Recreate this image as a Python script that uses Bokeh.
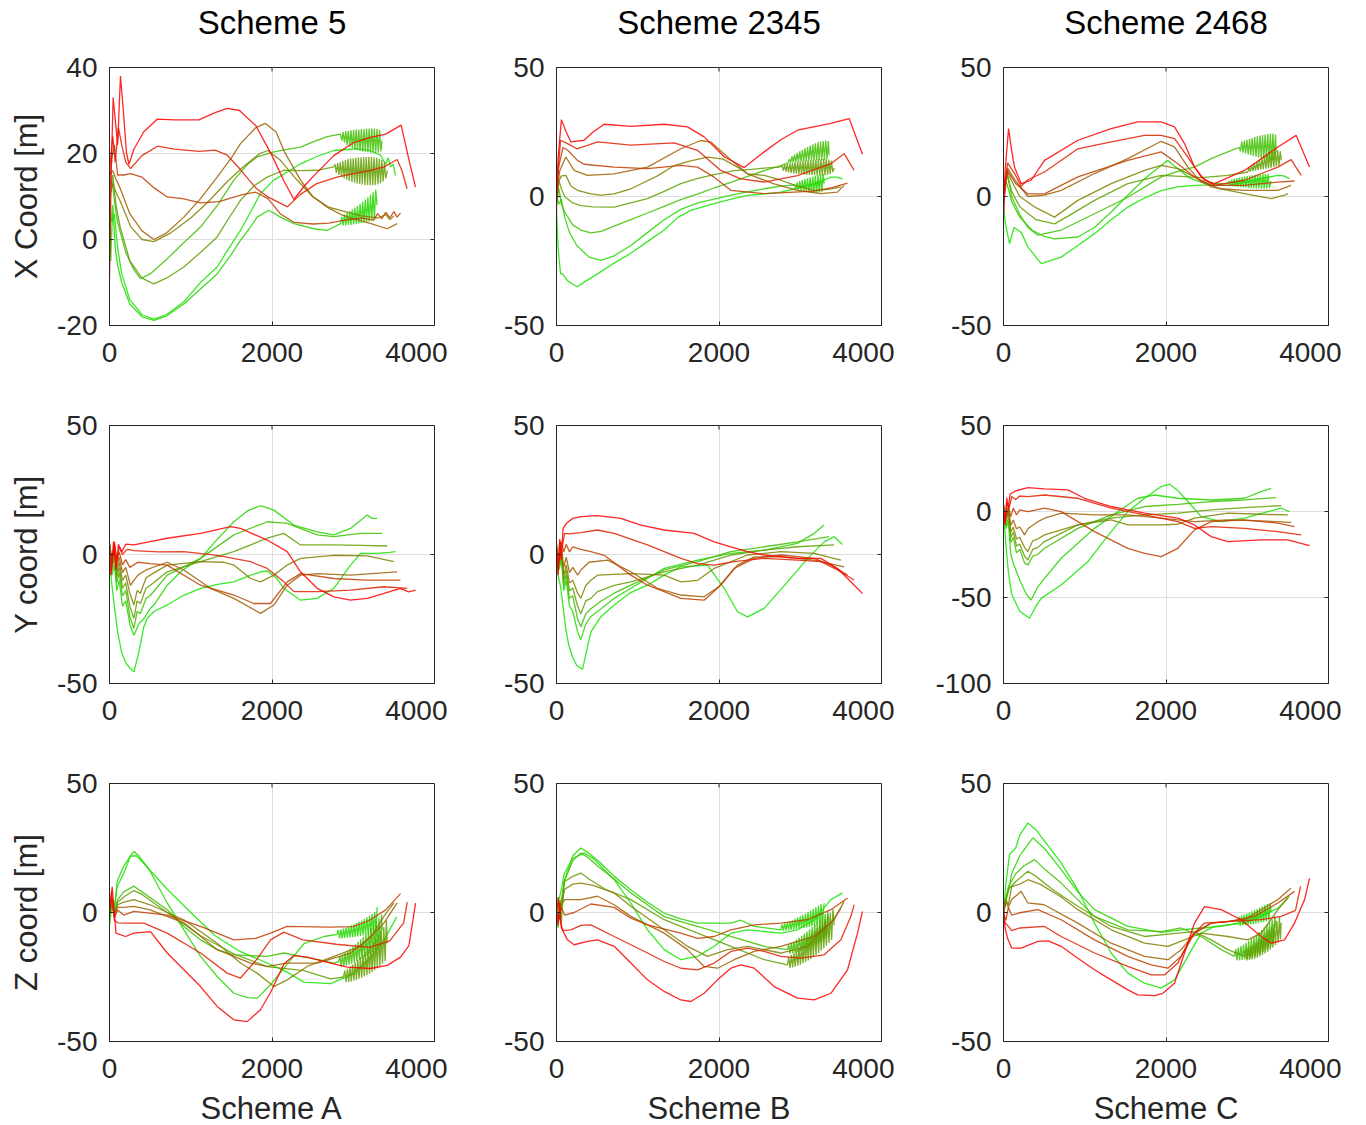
from bokeh.plotting import figure
from bokeh.layouts import column, row
from bokeh.models import Range1d, FixedTicker
from bokeh.core.properties import value
from bokeh.embed import file_html
from bokeh.resources import INLINE

# Panel headings and axis texts
COL_TITLES = ["Scheme 5", "Scheme 2345", "Scheme 2468"]
ROW_LABELS = ["X Coord [m]", "Y coord [m]", "Z coord [m]"]
X_LABELS = ["Scheme A", "Scheme B", "Scheme C"]
X_TICKS = [0, 2000, 4000]
Y_LIMITS = [[(-20, 40), (-50, 50), (-50, 50)],
            [(-50, 50), (-50, 50), (-100, 50)],
            [(-50, 50), (-50, 50), (-50, 50)]]
Y_TICKS = [[[-20, 0, 20, 40], [-50, 0, 50], [-50, 0, 50]],
           [[-50, 0, 50], [-50, 0, 50], [-100, -50, 0, 50]],
           [[-50, 0, 50], [-50, 0, 50], [-50, 0, 50]]]

# Nine trajectories per panel, ordered from the first (green) to the last (red).
# Each trajectory is a list of (sample, metres) pairs.

x_coord_a = [
    [(0, 12), (25, 4), (60, 6), (100, -2), (150, -8), (250, -14), (400, -17.5), (545, -18.5), (700, -17.5),
     (915, -14.5), (1120, -10), (1325, -6.4), (1470, -2), (1612, 2.1), (1740, 6.5), (1858, 10.7), (2022, 13.8),
     (2200, 15.8), (2351, 17.6), (2550, 19.3), (2761, 20.7), (3048, 21.1), (3200, 20.7), (3335, 19.6),
     (3400, 17.5), (3430, 19), (3460, 16.9), (3490, 17.5), (3520, 14.9)],
    [(0, 15), (15, -5), (40, 8), (70, -2), (100, -6), (150, -10), (250, -15), (400, -18), (545, -18.8),
     (700, -17.8), (915, -15), (1120, -11.5), (1325, -8), (1480, -4), (1612, -0.2), (1720, 2.5), (1817, 5.2),
     (1960, 6.8), (2105, 5.2), (2269, 3.7), (2515, 2.5), (2679, 2.1), (2843, 3.7),
     (2860, 5.2), (2876, 3.3), (2892, 5.8), (2908, 3.3), (2924, 6.2), (2940, 3.4), (2956, 6.6), (2972, 3.4),
     (2988, 7.0), (3004, 3.5), (3020, 7.4), (3036, 3.6), (3052, 7.8), (3068, 3.7), (3084, 8.3), (3100, 3.8),
     (3116, 8.8), (3132, 3.9), (3148, 9.3), (3164, 4.0), (3180, 9.8), (3196, 4.2), (3212, 10.4), (3228, 4.4),
     (3244, 11.0), (3260, 4.6), (3276, 11.6), (3294, 8.0)],
    [(0, 8), (30, 14), (60, 9), (100, 4), (200, -3), (300, -7), (380, -9.1), (500, -8), (710, -4.5), (900, -1),
     (1120, 2.9), (1330, 8), (1530, 13.8), (1700, 17.5), (1817, 19.2), (2022, 20.4), (2200, 21), (2351, 21.5),
     (2520, 22.8), (2679, 23.9), (2843, 24.5),
     (2860, 23), (2876, 25), (2892, 22.5), (2908, 25.2), (2924, 22), (2940, 25.3), (2956, 21.6), (2972, 25.4),
     (2988, 21.3), (3004, 25.5), (3020, 21), (3036, 25.6), (3052, 20.8), (3068, 25.6), (3084, 20.6),
     (3100, 25.7), (3116, 20.5), (3132, 25.7), (3148, 20.4), (3164, 25.8), (3180, 20.3), (3196, 25.8),
     (3212, 20.2), (3228, 25.8), (3244, 20.2), (3260, 25.8), (3276, 20.1), (3292, 25.7), (3308, 20.2),
     (3324, 25.5), (3340, 20.5), (3355, 23)],
    [(0, 12), (40, 15), (80, 8), (130, 3), (250, -5), (400, -9), (545, -10.3), (700, -9), (915, -6.4),
     (1120, -3), (1325, 0.6), (1470, 5), (1612, 9.1), (1780, 12.5), (1940, 14.5), (2145, 16.1), (2350, 16),
     (2556, 16.1), (2761, 16.9),
     (2776, 17.5), (2792, 15.5), (2808, 17.8), (2824, 15), (2840, 18), (2856, 14.6), (2872, 18.3), (2888, 14.2),
     (2904, 18.5), (2920, 13.9), (2936, 18.7), (2952, 13.6), (2968, 18.8), (2984, 13.4), (3000, 18.9),
     (3016, 13.2), (3032, 19), (3048, 13), (3064, 19.1), (3080, 12.9), (3096, 19.1), (3112, 12.8),
     (3128, 19.2), (3144, 12.7), (3160, 19.2), (3176, 12.7), (3192, 19.2), (3208, 12.6), (3224, 19.2),
     (3240, 12.6), (3256, 19.1), (3272, 12.7), (3288, 19), (3304, 12.8), (3320, 18.8), (3336, 13.1),
     (3352, 18.5), (3368, 13.5), (3384, 18), (3400, 14.2), (3420, 16)],
    [(0, 10), (40, 13), (80, 11), (130, 9), (260, 3), (400, 0), (546, -0.5), (750, 1.5), (1000, 5),
     (1200, 8.5), (1450, 13.5), (1650, 17), (1850, 20), (1950, 20.7), (2100, 18.5), (2300, 14), (2500, 10),
     (2700, 7.5), (2900, 6.5), (3100, 5.5), (3300, 5), (3400, 5.8), (3450, 4.6), (3500, 5.5)],
    [(0, 15), (40, 16), (80, 14), (130, 12), (250, 6), (400, 2), (545, 0), (700, 1.5), (915, 5.2), (1120, 9.5),
     (1325, 14.5), (1500, 19), (1612, 22.3), (1800, 26), (1920, 27), (2050, 25), (2150, 20.5), (2351, 13.8),
     (2500, 10), (2679, 7.5), (2850, 5.8), (3007, 4.8), (3200, 3.8), (3417, 2.5), (3540, 3.7)],
    [(0, 12), (30, 19), (60, 22), (100, 15), (180, 15), (260, 15.3), (400, 14.5), (550, 12), (710, 9.9),
     (900, 9.5), (1120, 8.5), (1350, 8.8), (1500, 9.7), (1650, 10.5), (1800, 11), (1950, 9.5), (2100, 6),
     (2270, 4), (2500, 3.6), (2700, 3.8), (2900, 4.5), (3100, 5), (3250, 4.5), (3300, 6), (3350, 4.8),
     (3400, 6.3), (3450, 5), (3500, 6.5), (3540, 5.2), (3582, 6.2)],
    [(0, 16), (40, 24), (70, 18), (110, 26), (150, 22), (200, 18), (260, 16.5), (400, 19.5), (590, 21.7),
     (800, 21), (1100, 20.5), (1300, 20.8), (1450, 19.6), (1600, 16.5), (1800, 12), (1950, 9.9), (2190, 7.6),
     (2350, 10.5), (2550, 13), (2800, 14.5), (3000, 15.3), (3200, 16), (3380, 16.9), (3540, 18.6),
     (3600, 16), (3663, 11.8)],
    [(0, -9), (20, 15), (45, 33), (70, 28), (100, 22), (135, 38), (170, 30), (210, 20), (240, 17.5),
     (300, 21), (420, 25), (590, 28), (800, 27.8), (1100, 27.8), (1300, 29.5), (1450, 30.5), (1600, 30),
     (1800, 26.5), (2000, 19.5), (2150, 13.5), (2270, 9.3), (2400, 12.5), (2550, 15.5), (2760, 19.5),
     (3000, 22.5), (3200, 23.7), (3400, 24.5), (3590, 26.6), (3680, 19), (3766, 12.2)],
]

x_coord_b = [
    [(0, -5), (20, -20), (50, -30), (74, -30), (135, -32.6), (200, -34), (258, -35), (350, -33), (505, -30),
     (700, -26), (915, -22), (1120, -17.5), (1325, -13), (1500, -8), (1653, -5.4), (1800, -4), (1941, -2.8),
     (2150, -1), (2351, 0.4), (2561, 1), (2761, 1.7), (2966, 3.2), (3172, 4.9), (3377, 7.5), (3450, 7.5),
     (3520, 6.8)],
    [(0, 0), (30, -3), (60, -1), (100, -8), (160, -14), (250, -19), (400, -23.5), (546, -24.8), (710, -23),
     (915, -19), (1120, -14), (1325, -9), (1530, -5), (1740, -2.5), (1940, -1), (2150, 0.5), (2351, 1.8),
     (2556, 3), (2761, 4), (2930, 4.5),
     (2946, 3), (2962, 5.5), (2978, 2.5), (2994, 6), (3010, 2.2), (3026, 6.4), (3042, 2), (3058, 6.8),
     (3074, 1.8), (3090, 7.1), (3106, 1.6), (3122, 7.4), (3138, 1.5), (3154, 7.7), (3170, 1.4), (3186, 8),
     (3202, 1.4), (3218, 8.3), (3234, 1.5), (3250, 8.6), (3266, 1.8), (3282, 8.8), (3294, 5)],
    [(0, -3), (30, 3), (60, -3), (100, -6), (200, -11), (300, -13), (423, -14.1), (550, -13.5), (710, -11.5),
     (915, -9), (1120, -6.4), (1325, -3.8), (1530, -1.2), (1740, 1), (1940, 3.3), (2146, 5.5), (2351, 7.8),
     (2556, 10), (2761, 12), (2850, 13),
     (2866, 14.5), (2882, 13.2), (2898, 15.5), (2914, 13.3), (2930, 16.2), (2946, 13.4), (2962, 16.9),
     (2978, 13.5), (2994, 17.5), (3010, 13.6), (3026, 18.1), (3042, 13.7), (3058, 18.7), (3074, 13.8),
     (3090, 19.2), (3106, 13.9), (3122, 19.7), (3138, 14), (3154, 20.2), (3170, 14), (3186, 20.6),
     (3202, 14.1), (3218, 21), (3234, 14.1), (3250, 21.3), (3266, 14.2), (3282, 21.5), (3298, 14.3),
     (3314, 21.7), (3330, 14.5), (3346, 21.5), (3355, 16)],
    [(0, 0), (30, 6), (60, 3), (100, 0), (200, -2.5), (300, -3.5), (450, -4), (710, -4.1), (915, -2.5),
     (1120, -0.8), (1325, 2), (1530, 5), (1740, 7), (1940, 8.5), (2187, 10), (2400, 10.5), (2556, 11),
     (2761, 11.5),
     (2776, 12), (2792, 10), (2808, 12.3), (2824, 9.6), (2840, 12.6), (2856, 9.3), (2872, 12.9), (2888, 9.1),
     (2904, 13.1), (2920, 8.9), (2936, 13.3), (2952, 8.8), (2968, 13.5), (2984, 8.7), (3000, 13.6),
     (3016, 8.6), (3032, 13.8), (3048, 8.5), (3064, 13.9), (3080, 8.4), (3096, 14), (3112, 8.4), (3128, 14.1),
     (3144, 8.3), (3160, 14.2), (3176, 8.3), (3192, 14.3), (3208, 8.2), (3224, 14.4), (3240, 8.2),
     (3256, 14.4), (3272, 8.2), (3288, 14.5), (3304, 8.3), (3320, 14.5), (3336, 8.4), (3352, 14.3),
     (3368, 8.7), (3384, 13.8), (3400, 9.5), (3420, 11)],
    [(0, -2), (30, 6), (60, 8), (115, 8.2), (180, 4), (258, 2.4), (423, 1), (546, 0.5), (710, 1), (915, 3),
     (1243, 8), (1450, 12), (1612, 13.5), (1858, 15.3), (2050, 14.5), (2250, 11), (2351, 8.8), (2556, 8.2),
     (2761, 6.3), (2966, 4), (3172, 2.4), (3350, 2.8), (3500, 3.7)],
    [(0, 0), (40, 10), (115, 15.3), (217, 10.1), (380, 8.2), (710, 8.8), (1120, 11.4), (1530, 18.5),
     (1776, 21.7), (1900, 21.1), (2105, 15.3), (2351, 8.8), (2679, 4.9), (2966, 2.4), (3253, 1.1),
     (3458, 1.7), (3540, 4.3)],
    [(0, 3), (30, 12), (80, 19), (135, 18), (258, 14), (340, 12.5), (710, 11.4), (1120, 10.8), (1530, 12.1),
     (1735, 11.4), (1940, 7.5), (2145, 2.4), (2556, 1.1), (3172, 2.1), (3400, 3.5), (3582, 5.2)],
    [(0, -5), (20, 10), (50, 21.8), (135, 20.5), (250, 18.5), (400, 20), (505, 21.2), (915, 19.9),
     (1448, 20.8), (1735, 17.9), (2022, 10.1), (2269, 6.8), (2556, 5.6), (2966, 8.1), (3376, 12.7),
     (3540, 16.6), (3663, 10.1)],
    [(0, 1), (20, 15), (60, 29.8), (120, 25), (176, 21.2), (340, 21.8), (450, 25), (587, 28), (915, 27.2),
     (1325, 28), (1612, 27), (1817, 23.1), (2064, 15.4), (2310, 11.2), (2556, 17.3), (2760, 22), (2966, 25.7),
     (3376, 28.3), (3602, 30.2), (3766, 16.4)],
]

x_coord_c = [
    [(0, -3), (20, -10), (74, -18.3), (130, -12), (220, -14), (300, -19.6), (464, -26), (710, -23.5),
     (915, -19), (1120, -14.4), (1325, -9), (1530, -4.1), (1740, -0.5), (1941, 2.3), (2146, 3.7), (2351, 4.3),
     (2556, 4.5), (2761, 4.3), (2966, 5.5), (3172, 6.9), (3377, 8.2), (3450, 8), (3520, 6.9)],
    [(0, 0), (30, 6), (60, 3), (100, -2), (200, -8), (350, -13), (500, -15.5), (628, -16.4), (915, -15.7),
     (1120, -12), (1325, -6), (1530, 0.5), (1740, 7), (1941, 12), (2023, 14), (2146, 10.8), (2300, 7),
     (2433, 5.6), (2600, 5), (2761, 5),
     (2776, 6), (2792, 4.2), (2808, 6.5), (2824, 4), (2840, 6.8), (2856, 3.8), (2872, 7.1), (2888, 3.7),
     (2904, 7.3), (2920, 3.6), (2936, 7.5), (2952, 3.5), (2968, 7.7), (2984, 3.4), (3000, 7.9), (3016, 3.3),
     (3032, 8.1), (3048, 3.2), (3064, 8.2), (3080, 3.2), (3096, 8.4), (3112, 3.1), (3128, 8.5), (3144, 3.1),
     (3160, 8.6), (3176, 3), (3192, 8.7), (3208, 3), (3224, 8.8), (3240, 3.1), (3256, 8.8), (3272, 3.3),
     (3294, 6)],
    [(0, 3), (40, 10), (100, 0), (200, -7), (300, -12), (423, -15), (710, -13), (1120, -6.7), (1530, -0.3),
     (1941, 7.6), (2187, 10.1), (2351, 11.4), (2556, 14.7), (2761, 17.3), (2900, 19),
     (2916, 17.5), (2932, 21.3), (2948, 17), (2964, 21.7), (2980, 16.7), (2996, 22), (3012, 16.3), (3028, 22.4),
     (3044, 16), (3060, 22.7), (3076, 15.7), (3092, 23), (3108, 15.4), (3124, 23.3), (3140, 15.1),
     (3156, 23.6), (3172, 14.9), (3188, 23.8), (3204, 14.7), (3220, 24), (3236, 14.5), (3252, 24.2),
     (3268, 14.3), (3284, 24.3), (3300, 14.2), (3316, 24.4), (3332, 14.3), (3348, 24), (3355, 17)],
    [(0, 0), (40, 9), (100, 2), (200, -4), (400, -9), (628, -10.6), (800, -7.5), (1120, -1.5), (1530, 5),
     (1941, 8.2), (2187, 7.8), (2433, 7.3), (2761, 8.2), (3007, 9.5),
     (3022, 11.3), (3038, 9.6), (3054, 12), (3070, 9.8), (3086, 12.8), (3102, 10), (3118, 13.5), (3134, 10.2),
     (3150, 14.2), (3166, 10.4), (3182, 14.9), (3198, 10.6), (3214, 15.6), (3230, 10.8), (3246, 16.2),
     (3262, 11), (3278, 16.8), (3294, 11.2), (3310, 17.3), (3326, 11.4), (3342, 17.7), (3358, 11.6),
     (3374, 17.9), (3390, 11.8), (3406, 17.5), (3420, 14)],
    [(0, 2), (40, 10), (100, 6), (200, 0), (380, -4), (628, -8), (915, -1.5), (1325, 5), (1736, 10.1),
     (1941, 12.1), (2146, 10.8), (2351, 7.6), (2556, 3.7), (2966, 1.1), (3294, -0.8), (3460, 0.5),
     (3500, 1.1)],
    [(0, 0), (50, 11), (150, 6), (300, 0), (505, 0.5), (710, 2.4), (1120, 8.9), (1530, 14.7), (1941, 21.4),
     (2105, 19.2), (2269, 11.4), (2433, 5.6), (2679, 3), (2966, 2.4), (3377, 2.4), (3540, 4.3)],
    [(0, -3), (50, 10), (150, 5), (300, 1), (505, 1), (915, 7.6), (1530, 14), (1941, 17.3), (2146, 12.7),
     (2351, 7.6), (2556, 4.3), (2966, 4.3), (3377, 5.6), (3582, 6)],
    [(0, -5), (20, 5), (50, 13), (135, 9), (217, 4), (300, 6.5), (505, 9.5), (915, 18.5), (1325, 21.2),
     (1736, 23.7), (1941, 23.7), (2105, 22.4), (2269, 15.3), (2433, 7.6), (2597, 4.3), (2966, 6.3),
     (3377, 11.4), (3540, 14.3), (3663, 8.2)],
    [(0, -8), (20, 10), (62, 26.3), (100, 18), (135, 11.4), (217, 5), (340, 6.3), (505, 14), (915, 21.8),
     (1325, 26.3), (1653, 28.9), (1941, 28.9), (2105, 27), (2228, 20.5), (2351, 11.4), (2474, 6.3),
     (2597, 5), (2966, 10.1), (3377, 19.2), (3602, 23.7), (3766, 11.4)],
]

y_coord_a = [
    [(0, -2), (30, -12), (60, -20), (100, -30), (150, -38), (200, -42), (250, -44), (300, -45.5), (360, -38),
     (423, -28), (464, -24.8), (550, -22), (710, -19.6), (900, -16), (1120, -13.1), (1350, -11.5),
     (1530, -10.6), (1700, -8.5), (1858, -6.7), (1941, -6.4), (2050, -9), (2146, -13.1), (2351, -17.7),
     (2556, -17), (2761, -13.1), (2966, -4.1), (3090, 0.4), (3294, 0.4), (3450, 0.8), (3520, 1.1)],
    [(0, 2), (30, -8), (60, -4), (90, -14), (120, -10), (160, -20), (200, -18), (250, -27), (300, -31.3),
     (360, -27), (423, -24.8), (500, -21), (560, -19), (710, -11.9), (900, -6), (1120, -1.6), (1300, 5),
     (1530, 12.7), (1700, 17), (1858, 18.9), (2023, 17.2), (2269, 11.4), (2556, 8.8), (2761, 7.6),
     (2966, 10.1), (3100, 13.5), (3172, 15.3), (3230, 14), (3294, 14)],
    [(0, 3), (30, -6), (60, -1), (90, -11), (120, -7), (160, -16), (200, -14), (250, -24), (300, -28.7),
     (340, -22), (380, -23), (450, -17), (500, -16), (710, -8), (1120, -1.5), (1530, 7.6), (1941, 12.7),
     (2187, 12.1), (2556, 7.6), (2761, 6.9), (3090, 8.2), (3356, 8.2)],
    [(0, 4), (30, -5), (60, 1), (90, -9), (120, -5), (160, -13), (200, -11), (250, -20), (300, -24.8),
     (340, -18), (380, -19), (450, -13), (500, -12), (710, -6.7), (1120, -2.8), (1530, 1.1), (1941, 6.3),
     (2146, 8.2), (2351, 3.7), (2761, 3.7), (3100, 3.5), (3418, 3.3)],
    [(0, 5), (30, -3), (60, 2), (90, -7), (120, -3), (160, -10), (200, -8), (250, -15), (300, -19.6),
     (340, -14), (380, -15), (450, -9), (500, -8), (710, -4.1), (1120, -2.8), (1400, -3), (1530, -4.1),
     (1736, -9.3), (1858, -10.6), (2023, -8), (2187, -4.1), (2351, -1.5), (2761, -0.3), (3172, -0.5),
     (3500, -2.8)],
    [(0, 4), (30, -2), (60, 3), (90, -5), (120, -1), (160, -7), (200, -5), (258, -12), (300, -10), (350, -8),
     (450, -6), (710, -3), (915, -6), (1243, -13.1), (1530, -17), (1858, -22.8), (2023, -19.6),
     (2187, -11.9), (2351, -8), (2556, -7.4), (2966, -8), (3540, -6.7)],
    [(0, 3), (30, -2), (60, 4), (90, -3), (120, 1), (160, -4), (200, -2), (250, -5), (350, -3), (500, -3.5),
     (710, -4.1), (1120, -11.9), (1530, -15.7), (1776, -19), (1981, -19), (2187, -10.6), (2351, -7.4),
     (2761, -9.3), (3172, -9.9), (3580, -9.9)],
    [(0, 2), (30, -4), (60, 5), (90, -2), (120, 3), (160, 0), (217, 2), (300, 1.5), (600, 1), (915, 1.1),
     (1325, -0.3), (1736, -2.8), (1941, -5.4), (2146, -10.6), (2269, -14.4), (2556, -14.4), (2966, -13.8),
     (3377, -12.5), (3663, -13.1)],
    [(0, 0), (20, -8), (50, 5), (80, -6), (110, 4), (150, 1), (200, 4), (300, 3.7), (500, 5), (710, 6.3),
     (1120, 8.2), (1489, 10.8), (1612, 10.1), (1941, 5.6), (2187, 1.1), (2351, -6.7), (2556, -13.1),
     (2761, -16.4), (2966, -17.7), (3172, -17), (3377, -15.1), (3582, -13.1), (3680, -14.5), (3766, -13.8)],
]

y_coord_b = [
    [(0, 0), (20, -8), (50, -12.5), (80, -20), (110, -28), (150, -35), (200, -40), (250, -43), (320, -44.5),
     (380, -36), (423, -30), (550, -24), (710, -19.6), (900, -15), (1120, -11.9), (1325, -8), (1530, -4.8),
     (1858, -4.1), (2064, -13.1), (2228, -22.2), (2351, -24.2), (2556, -20.9), (2843, -10.6), (3090, -1.5),
     (3294, 4.9), (3418, 6.9), (3520, 3.9)],
    [(0, 2), (30, -6), (60, -2), (90, -14), (120, -10), (160, -20), (200, -22), (260, -30), (300, -33),
     (360, -27), (423, -24), (550, -21), (710, -17), (915, -13.1), (1325, -5.4), (1736, -2.2), (2146, 0.4),
     (2556, 1.7), (2966, 4.3), (3172, 8.2), (3294, 11.4)],
    [(0, 3), (30, -5), (60, 0), (90, -12), (120, -8), (160, -17), (200, -16), (260, -25), (300, -28),
     (360, -23), (423, -21), (550, -18), (710, -15), (915, -11.9), (1325, -6), (1736, -2.8), (2146, 1.1),
     (2556, 3), (2966, 4.9), (3356, 6.9)],
    [(0, 4), (30, -4), (60, 1), (90, -10), (120, -6), (160, -14), (200, -13), (260, -20), (300, -23),
     (360, -18), (423, -17), (505, -14.4), (710, -12), (915, -10.6), (1325, -6.7), (1736, -4.1),
     (2146, -0.2), (2556, 1.7), (2966, 3), (3418, 3.7)],
    [(0, 4), (30, -3), (60, 2), (90, -8), (120, -4), (160, -11), (200, -10), (260, -15), (300, -17),
     (360, -12), (423, -10), (505, -8), (915, -7.4), (1325, -8), (1530, -10.6), (1736, -10), (1941, -5.4),
     (2351, -0.2), (2761, 1.1), (3172, 0.4), (3500, -2.2)],
    [(0, 3), (30, -2), (60, 3), (90, -5), (120, -1), (160, -7), (200, -5), (260, -8), (300, -6), (400, -3),
     (628, -2.2), (915, -6.7), (1243, -13.1), (1530, -15.7), (1817, -16.4), (2023, -11.9), (2228, -4.1),
     (2433, -0.9), (2761, -0.9), (3172, -2.2), (3540, -4.8)],
    [(0, 2), (30, -3), (60, 5), (90, 1), (120, 4), (160, 1), (200, 3), (300, 2), (423, 1.1), (587, -0.3),
     (915, -8), (1120, -11.9), (1325, -14.4), (1530, -17), (1817, -17.7), (1981, -13.1), (2187, -5.4),
     (2433, -1.5), (2761, -0.2), (3172, -1.5), (3377, -4.1), (3582, -8)],
    [(0, 1), (20, -5), (40, 5), (70, 3), (100, 8.2), (150, 8), (300, 8.5), (505, 9.5), (710, 8.2),
     (1120, 3.7), (1325, 1.1), (1530, -1.5), (1736, -3.5), (1941, -4.1), (2187, -2.8), (2556, -1.5),
     (2966, -2.2), (3254, -2.8), (3459, -6), (3663, -9.9)],
    [(0, 0), (20, -8), (40, 6), (60, -2), (80, 10), (120, 12), (200, 14), (300, 14.7), (505, 15.1),
     (792, 14), (1038, 11.4), (1325, 9.5), (1695, 8.2), (1941, 4.9), (2146, 3), (2351, 1.1), (2556, -0.2),
     (2966, -1.5), (3254, -1.5), (3459, -5.4), (3582, -9.3), (3766, -15.1)],
]

y_coord_c = [
    [(0, 0), (30, -20), (60, -35), (100, -48), (200, -58), (320, -62.1), (400, -55), (464, -50.5),
     (710, -42.7), (1038, -29.2), (1325, -11.7), (1530, -0.1), (1736, 7.7), (1941, 14.5), (2044, 15.9),
     (2150, 12), (2269, 5.8), (2433, -3), (2679, -5.9), (2966, -3.9), (3254, -0.1), (3418, 1.9),
     (3520, -0.1)],
    [(0, 2), (30, -10), (60, -6), (90, -25), (120, -30), (200, -40), (280, -48), (340, -51.5), (420, -44),
     (505, -38.9), (710, -27.2), (1120, -9.8), (1407, -0.1), (1653, 7.7), (1858, 9.6), (2146, 7.7),
     (2556, 6.7), (2966, 7.7), (3172, 11.6), (3294, 13.5)],
    [(0, 3), (30, -8), (60, -4), (90, -18), (120, -15), (160, -24), (200, -22), (260, -30), (300, -31),
     (360, -26), (420, -25), (505, -21.4), (915, -9.8), (1325, -2), (1736, 2.9), (2146, 4.2), (2556, 5.8),
     (2966, 6.7), (3356, 8.1)],
    [(0, 4), (30, -6), (60, -1), (90, -15), (120, -12), (160, -20), (200, -19), (260, -26), (300, -28.2),
     (360, -22), (420, -21), (505, -17.5), (915, -7.8), (1325, -3.9), (1736, -2), (2146, -1), (2556, 0.9),
     (2966, 2.3), (3418, 3.4)],
    [(0, 4), (30, -4), (60, 1), (90, -12), (120, -9), (160, -16), (200, -15), (260, -21), (300, -23.3),
     (360, -17), (420, -16), (505, -13.6), (915, -7.8), (1325, -4.9), (1530, -7.8), (1941, -7.8),
     (2146, -7.4), (2351, -3.9), (2761, -1), (3172, -1.6), (3500, -2)],
    [(0, 3), (30, -3), (60, 2), (90, -8), (120, -5), (160, -10), (200, -9), (258, -13.6), (300, -10),
     (360, -8), (420, -6), (505, -3.9), (710, -1), (1120, -2), (1530, -2), (1941, -3.9), (2351, -5.9),
     (2761, -4.9), (3172, -5.5), (3540, -6.3)],
    [(0, 2), (30, -4), (60, 3), (90, -3), (120, 2), (160, -2), (200, 1), (300, -0.1), (505, 1.9),
     (710, -0.1), (915, -5.9), (1120, -11.7), (1530, -21.4), (1736, -24.3), (1941, -26.2), (2146, -21.4),
     (2351, -10.7), (2556, -5.9), (2966, -4.9), (3377, -6.8), (3580, -8.8)],
    [(0, 1), (20, -6), (40, 5), (70, 2), (100, 8.7), (150, 7), (200, 9), (300, 8.7), (505, 9.6), (915, 7.7),
     (1325, 1.9), (1736, -2), (2146, -5.9), (2351, -9.8), (2556, -8.8), (2966, -9.8), (3377, -11.7),
     (3663, -13.6)],
    [(0, 0), (20, -8), (40, 8), (60, 2), (80, 10), (150, 12), (300, 13.9), (505, 13.1), (792, 12.6),
     (997, 7.7), (1325, 2.9), (1736, -1), (2146, -3.9), (2351, -7.8), (2556, -14.6), (2761, -17.5),
     (3172, -16.5), (3500, -16.5), (3766, -19.8)],
]

z_coord_a = [
    [(0, -3), (30, 5), (60, 2), (94, 10), (176, 15.3), (258, 21.8), (330, 22), (423, 19), (710, 9),
     (1000, 0), (1300, -9), (1600, -15), (1900, -19), (2187, -23.1), (2393, -27), (2721, -27.6),
     (3008, -23.7), (3213, -17.3), (3377, -10.9), (3533, -1.8)],
    [(0, -5), (30, 3), (60, 0), (94, 12), (176, 18), (258, 22), (300, 23.7), (360, 22), (500, 16),
     (710, 3.7), (915, -6.7), (1120, -17), (1325, -24.8), (1530, -31.3), (1700, -33), (1820, -33.2),
     (1982, -28), (2187, -20), (2393, -12.1), (2639, -9.3), (2800, -8.5),
     (2816, -6.8), (2832, -10), (2848, -6.5), (2864, -10), (2880, -6.2), (2896, -9.9), (2912, -5.8),
     (2928, -9.8), (2944, -5.4), (2960, -9.7), (2976, -5), (2992, -9.6), (3008, -4.6), (3024, -9.5),
     (3040, -4.1), (3056, -9.3), (3072, -3.6), (3088, -9.1), (3104, -3.1), (3120, -8.9), (3136, -2.5),
     (3152, -8.6), (3168, -1.9), (3184, -8.3), (3200, -1.3), (3216, -8), (3232, -0.6), (3248, -7.6),
     (3264, 0.2), (3280, -7), (3294, 2)],
    [(0, -2), (30, 4), (60, 0), (100, 5), (176, 8), (300, 10.2), (400, 8), (710, 1.1), (915, -5.4),
     (1120, -10.6), (1325, -14.4), (1530, -16.4), (1941, -17), (2146, -15.7), (2351, -17), (2600, -18.5),
     (2761, -19.6), (2820, -19),
     (2836, -17), (2852, -21), (2868, -16.3), (2884, -20.8), (2900, -15.6), (2916, -20.5), (2932, -14.8),
     (2948, -20.2), (2964, -14), (2980, -19.8), (2996, -13.2), (3012, -19.4), (3028, -12.3), (3044, -19),
     (3060, -11.4), (3076, -18.5), (3092, -10.4), (3108, -18), (3124, -9.4), (3140, -17.4), (3156, -8.3),
     (3172, -16.8), (3188, -7.2), (3204, -16.1), (3220, -6), (3236, -15.4), (3252, -4.8), (3268, -14.6),
     (3284, -3.5), (3300, -13.8), (3316, -2.2), (3332, -12.9), (3348, -0.8), (3356, -7)],
    [(0, 0), (30, 3), (60, -2), (100, 4), (176, 6), (300, 8.5), (400, 7), (710, 0), (1120, -9), (1530, -16),
     (1941, -21), (2393, -22.5), (2721, -25.7), (2880, -25),
     (2896, -22.5), (2912, -27), (2928, -21.8), (2944, -26.9), (2960, -21), (2976, -26.7), (2992, -20.2),
     (3008, -26.4), (3024, -19.3), (3040, -26.1), (3056, -18.4), (3072, -25.7), (3088, -17.4), (3104, -25.3),
     (3120, -16.3), (3136, -24.8), (3152, -15.2), (3168, -24.3), (3184, -14), (3200, -23.7), (3216, -12.8),
     (3232, -23.1), (3248, -11.5), (3264, -22.4), (3280, -10.1), (3296, -21.6), (3312, -8.7), (3328, -20.8),
     (3344, -7.2), (3360, -19.9), (3376, -5.6), (3392, -18.9), (3408, -3), (3418, -12)],
    [(0, 0), (30, 4), (60, -1), (100, 3), (176, 4), (300, 5), (500, 3), (915, -2.8), (1325, -11.9),
     (1612, -19.6), (1817, -23.5), (2023, -28.7), (2187, -26.1), (2433, -20.9), (2761, -17), (3090, -13.1),
     (3250, -8), (3377, -1.5), (3500, 3.7)],
    [(0, 1), (30, 5), (60, -1), (100, 2), (176, 2), (300, 2.4), (500, 1), (915, -4), (1325, -14.4),
     (1736, -19.6), (1941, -20.9), (2187, -19.6), (2556, -19.6), (2966, -15.7), (3200, -10), (3377, -4.1),
     (3540, 3.7)],
    [(0, 0), (30, 6), (60, -2), (100, 1), (176, -1), (300, 0.4), (710, -1), (1120, -5.4), (1530, -10.6),
     (1800, -10), (1982, -8), (2187, -5.4), (2700, -5.7), (3000, -5.5), (3200, -3), (3400, 1), (3582, 7.3)],
    [(0, 0), (25, 8), (60, -3), (100, -4), (217, -4.1), (423, -4.1), (710, -8), (1120, -15.7),
     (1448, -23.5), (1612, -25.4), (1817, -18), (1982, -10.6), (2146, -7.6), (2380, -10.6), (2790, -12.3),
     (3200, -13.5), (3450, -11), (3620, -4), (3665, 4)],
    [(0, 0), (33, 10), (80, -8), (197, -9.3), (300, -8), (505, -7.4), (710, -15.7), (915, -22.2),
     (1120, -28.7), (1325, -36.4), (1530, -41.6), (1694, -42.3), (1858, -37.7), (1982, -31), (2146, -20),
     (2269, -16.7), (2434, -17.3), (2680, -19.3), (2926, -21.2), (3213, -21.7), (3418, -20.5),
     (3582, -17.3), (3685, -12.8), (3767, 3.6)],
]

z_coord_b = [
    [(0, -1), (30, 5), (60, 9), (94, 15), (200, 21), (340, 23.1), (450, 21), (710, 12.7), (915, 3.6),
     (1120, -6.7), (1325, -14.4), (1530, -18.3), (1736, -17), (1941, -13.1), (2146, -8), (2351, -6.7),
     (2761, -8), (2966, -6.7), (3172, -2.8), (3377, 5), (3520, 7.6)],
    [(0, 0), (20, -6), (40, 5), (60, -4), (94, 12), (200, 22), (300, 25), (400, 23), (550, 19), (710, 14),
     (915, 8.8), (1120, 4), (1325, -0.2), (1530, -2.5), (1736, -4.1), (2146, -4.1), (2269, -3),
     (2433, -5.4), (2761, -6.7),
     (2776, -4.6), (2792, -7), (2808, -4.2), (2824, -6.9), (2840, -3.8), (2856, -6.8), (2872, -3.4),
     (2888, -6.7), (2904, -3), (2920, -6.6), (2936, -2.5), (2952, -6.5), (2968, -2), (2984, -6.3),
     (3000, -1.5), (3016, -6.2), (3032, -1), (3048, -6), (3064, -0.4), (3080, -5.8), (3096, 0.2),
     (3112, -5.6), (3128, 0.8), (3144, -5.4), (3160, 1.4), (3176, -5.1), (3192, 2), (3208, -4.8),
     (3224, 2.6), (3240, -4.5), (3256, 3.2), (3272, -4.2), (3294, 3.6)],
    [(0, 0), (30, 4), (60, 1), (94, 12), (200, 20), (300, 23.1), (400, 21), (505, 18), (710, 13), (915, 7.6),
     (1120, 3), (1325, -1.6), (1530, -3.5), (1736, -5.4), (2146, -9.3), (2556, -13.1), (2843, -14.4),
     (2858, -12.4), (2874, -16), (2890, -11.8), (2906, -15.8), (2922, -11.2), (2938, -15.6), (2954, -10.5),
     (2970, -15.3), (2986, -9.8), (3002, -15), (3018, -9), (3034, -14.7), (3050, -8.2), (3066, -14.3),
     (3082, -7.4), (3098, -13.9), (3114, -6.5), (3130, -13.5), (3146, -5.6), (3162, -13), (3178, -4.7),
     (3194, -12.5), (3210, -3.7), (3226, -12), (3242, -2.7), (3258, -11.4), (3274, -1.7), (3290, -10.8),
     (3306, -0.6), (3322, -10.1), (3338, 0.5), (3356, -4)],
    [(0, 1), (30, 3), (60, 5), (100, 12), (200, 14), (300, 15.3), (400, 13), (600, 9), (915, 5),
     (1325, -2.8), (1736, -8), (2146, -13.1), (2556, -18.3), (2843, -20.3),
     (2858, -17.2), (2874, -21.5), (2890, -16.4), (2906, -21.3), (2922, -15.6), (2938, -21), (2954, -14.7),
     (2970, -20.6), (2986, -13.8), (3002, -20.2), (3018, -12.8), (3034, -19.7), (3050, -11.8), (3066, -19.2),
     (3082, -10.7), (3098, -18.6), (3114, -9.6), (3130, -18), (3146, -8.5), (3162, -17.3), (3178, -7.4),
     (3194, -16.5), (3210, -6.2), (3226, -15.7), (3242, -5), (3258, -14.8), (3274, -3.8), (3290, -13.9),
     (3306, -2.6), (3322, -12.9), (3338, -1.4), (3354, -11.8), (3370, -0.2), (3386, -10.6), (3402, 1.2),
     (3418, -5)],
    [(0, 0), (30, 4), (60, 3), (100, 9), (200, 11), (300, 11.4), (450, 10.5), (710, 7.6), (915, 2.4),
     (1325, -6.7), (1612, -13.1), (1858, -17), (2105, -14.4), (2351, -13.1), (2761, -15.7), (3090, -13.1),
     (3377, -4.1), (3500, 1.7)],
    [(0, 1), (30, -2), (60, 3), (100, 5), (300, 5), (505, 6.3), (710, 3), (915, -1.5), (1325, -8),
     (1612, -14.4), (1817, -20.9), (1982, -21.6), (2187, -18.3), (2433, -15.1), (2761, -13.1), (3172, -9.3),
     (3418, -2.8), (3540, 4.3)],
    [(0, 0), (30, -3), (60, 2), (100, -1), (217, 0), (423, 3.3), (710, 2), (915, -2.2), (1120, -4.8),
     (1530, -8), (1736, -10), (1941, -9.3), (2146, -6.7), (2433, -4.8), (2761, -4.1), (3090, -2.8),
     (3377, 1.1), (3582, 5.6)],
    [(0, 0), (20, 6), (50, -4), (80, -7), (176, -6.7), (300, -5), (423, -4.8), (710, -9.3), (915, -12.5),
     (1120, -15.7), (1325, -19), (1530, -21.6), (1736, -22.2), (1941, -19.6), (2146, -15.1), (2351, -13.8),
     (2556, -15.1), (2761, -17), (3007, -17.7), (3294, -16.4), (3500, -10.6), (3623, -1.5), (3663, 3)],
    [(0, 0), (20, -5), (40, 4), (60, -6), (135, -10.6), (217, -12.5), (382, -11.2), (505, -10.6),
     (710, -13.1), (915, -19.6), (1120, -26.1), (1325, -30.6), (1530, -33.9), (1653, -34.5), (1817, -31.3),
     (1982, -26.1), (2146, -21.6), (2269, -20.3), (2433, -21.6), (2679, -28.7), (2966, -33.2),
     (3172, -33.9), (3377, -31.3), (3582, -22.2), (3705, -8), (3766, 0.4)],
]

z_coord_c = [
    [(0, -2), (25, 10), (74, 22.5), (150, 25), (200, 30), (300, 34.7), (400, 32), (710, 19.2), (915, 8.8),
     (1120, -4.1), (1325, -15.7), (1530, -23.5), (1736, -27.4), (1941, -29.3), (2105, -26.1), (2269, -17),
     (2433, -8), (2597, -5.4), (2966, -4.1), (3172, -1.5), (3377, 1.7), (3520, 6.3)],
    [(0, 0), (30, 5), (60, 8), (100, 15), (200, 22), (361, 28.9), (500, 25), (710, 16.6), (915, 8),
     (1120, 1.1), (1530, -5.4), (1941, -7.7), (2187, -6.7), (2433, -6), (2679, -5.4), (2884, -4.1),
     (2898, -1.6), (2914, -5.1), (2930, -1.2), (2946, -5), (2962, -0.8), (2978, -4.9), (2994, -0.4),
     (3010, -4.8), (3026, 0), (3042, -4.6), (3058, 0.5), (3074, -4.5), (3090, 0.9), (3106, -4.3),
     (3122, 1.4), (3138, -4.1), (3154, 1.9), (3170, -3.9), (3186, 2.4), (3202, -3.7), (3218, 2.9),
     (3234, -3.4), (3250, 3.3), (3266, -3.1), (3282, 3.7), (3294, 0)],
    [(0, 1), (30, 4), (60, 10), (150, 15), (250, 18), (382, 20.5), (500, 17), (710, 11.4), (1120, -1.5),
     (1530, -6.7), (1941, -7.4), (2187, -6), (2433, -9.3), (2679, -14.4), (2843, -17),
     (2858, -14.2), (2874, -18.6), (2890, -13.6), (2906, -18.5), (2922, -13), (2938, -18.4), (2954, -12.4),
     (2970, -18.2), (2986, -11.7), (3002, -18), (3018, -11), (3034, -17.7), (3050, -10.2), (3066, -17.3),
     (3082, -9.4), (3098, -16.9), (3114, -8.5), (3130, -16.4), (3146, -7.6), (3162, -15.9), (3178, -6.7),
     (3194, -15.3), (3210, -5.7), (3226, -14.6), (3242, -4.7), (3258, -13.9), (3274, -3.7), (3290, -13.1),
     (3306, -2.7), (3322, -12.2), (3338, -1.6), (3356, -6)],
    [(0, 2), (30, 6), (60, 9), (150, 12), (300, 16), (400, 14), (600, 9), (915, 2.4), (1325, -5.4),
     (1736, -9.3), (2146, -8), (2351, -7.4), (2556, -10.6), (2761, -14.4), (2966, -17),
     (2980, -14.6), (2996, -18.6), (3012, -13.9), (3028, -18.4), (3044, -13.2), (3060, -18.2), (3076, -12.4),
     (3092, -17.9), (3108, -11.6), (3124, -17.5), (3140, -10.7), (3156, -17), (3172, -9.8), (3188, -16.5),
     (3204, -8.8), (3220, -15.9), (3236, -7.8), (3252, -15.2), (3268, -6.7), (3284, -14.4), (3300, -5.6),
     (3316, -13.6), (3332, -4.4), (3348, -12.7), (3364, -3.2), (3380, -11.7), (3396, -1.9), (3408, -10.5),
     (3418, -4)],
    [(0, 0), (30, 5), (60, 3), (100, 10), (200, 11), (300, 12.7), (450, 11), (710, 6), (915, 1.1),
     (1325, -6.7), (1736, -11.9), (2023, -13.1), (2228, -10.6), (2433, -8), (2761, -9.3), (3007, -10.6),
     (3172, -8), (3377, 1.1), (3500, 5.6)],
    [(0, 0), (30, 4), (60, 2), (100, 5), (217, 8.2), (300, 3.7), (500, 3), (915, -4.1), (1325, -11.9),
     (1736, -17), (2023, -18.3), (2187, -14.4), (2351, -8), (2556, -4.1), (2966, -2.8), (3377, 5),
     (3540, 9.5)],
    [(0, 0), (30, -3), (60, 2), (100, -1), (217, 0), (423, 1.1), (710, -2.8), (1120, -10.6), (1530, -17),
     (1817, -20.3), (2023, -21.6), (2187, -17), (2351, -8), (2556, -4.1), (2761, -3.5), (3090, -1.5),
     (3377, 3.7), (3582, 8.2)],
    [(0, 0), (20, -4), (60, -5.4), (100, -7), (200, -6), (505, -5.4), (710, -9.3), (1120, -15.7),
     (1530, -20.9), (1817, -24.2), (1982, -24.2), (2146, -19.6), (2310, -9.3), (2474, -4.1), (2761, -3.5),
     (3172, -2.8), (3418, -1.5), (3594, 0.8), (3656, 10.1)],
    [(0, 0), (20, -6), (50, -10), (100, -13.8), (217, -13.8), (423, -11.2), (550, -11), (710, -13.1),
     (915, -17.7), (1120, -22.2), (1325, -26.1), (1530, -30), (1653, -31.9), (1858, -32.2), (1961, -31.3),
     (2105, -27.4), (2187, -19.6), (2351, -4.1), (2474, 2.3), (2679, 1.1), (2925, -2.8), (3172, -9.3),
     (3294, -11.9), (3459, -10.6), (3582, -4.1), (3705, 4.9), (3766, 13.2)],
]

PANELS = [[x_coord_a, x_coord_b, x_coord_c],
          [y_coord_a, y_coord_b, y_coord_c],
          [z_coord_a, z_coord_b, z_coord_c]]

# green -> red ramp, one step per trajectory
COLORS = ["#14e600", "#26d600", "#40bf00", "#609f00", "#808000",
          "#9f6000", "#bf4000", "#df2000", "#ff0000"]

FONT = "Liberation Sans"
AX_COLOR = "#262626"
FRAME_W, FRAME_H = 325, 258
BORDER_L, BORDER_R = 109, 13
TICK_LEN = 4          # inward tick length, px
TITLE_STRIP_H = 50    # strip above the first row holding the column titles
LABEL_STRIP_H = 34    # strip below the last row holding the scheme names
ROW_TOP = [17, 50, 50]
ROW_BOTTOM = [50, 50, 50]


def plain_minus(ticks):
    # hyphen-minus labels for negative ticks
    return {t: str(t) for t in ticks if t < 0}


def text_strip(txt, height, y_mid, size, color):
    """A bare strip, as wide as a panel column, carrying one centred text."""
    s = figure(frame_width=FRAME_W, frame_height=height,
               x_range=Range1d(0, 4000), y_range=Range1d(0, height),
               output_backend="svg", toolbar_location=None,
               x_axis_type=None, y_axis_type=None,
               min_border_left=BORDER_L, min_border_right=BORDER_R,
               min_border_top=0, min_border_bottom=0,
               outline_line_color=None,
               background_fill_color="white", border_fill_color="white")
    s.text(x=[2000], y=[y_mid], text=[txt], text_align="center", text_baseline="middle",
           text_font=value(FONT), text_font_size=value(size), text_color=color)
    return s


def make_panel(r, c):
    lo, hi = Y_LIMITS[r][c]
    yt = Y_TICKS[r][c]
    span = hi - lo
    p = figure(frame_width=FRAME_W, frame_height=FRAME_H,
               x_range=Range1d(0, 4000), y_range=Range1d(lo, hi),
               output_backend="svg", toolbar_location=None,
               min_border_left=BORDER_L, min_border_right=BORDER_R,
               min_border_top=ROW_TOP[r], min_border_bottom=ROW_BOTTOM[r],
               background_fill_color="white", border_fill_color="white")

    p.outline_line_color = AX_COLOR
    p.outline_line_width = 1

    x_inner = [t for t in X_TICKS if 0 < t < 4000]
    y_inner = [t for t in yt if lo < t < hi]
    p.xgrid.ticker = FixedTicker(ticks=x_inner)
    p.ygrid.ticker = FixedTicker(ticks=y_inner)
    p.xgrid.grid_line_color = "#dedede"
    p.ygrid.grid_line_color = "#dedede"

    for ax, ticks in ((p.xaxis[0], X_TICKS), (p.yaxis[0], yt)):
        ax.ticker = FixedTicker(ticks=ticks)
        ax.major_label_overrides = plain_minus(ticks)
        ax.major_tick_in = TICK_LEN
        ax.major_tick_out = 0
        ax.minor_tick_line_color = None
        ax.axis_line_color = AX_COLOR
        ax.major_tick_line_color = AX_COLOR
        ax.major_label_text_font = FONT
        ax.major_label_text_font_size = "28px"
        ax.major_label_text_color = AX_COLOR
        ax.axis_label_text_font = FONT
        ax.axis_label_text_font_size = "31px"
        ax.axis_label_text_font_style = "normal"
        ax.axis_label_text_color = AX_COLOR
    p.xaxis[0].major_label_standoff = 17
    p.yaxis[0].major_label_standoff = 12
    p.yaxis[0].major_label_orientation = "horizontal"
    p.yaxis[0].axis_label_standoff = 10
    if c == 0:
        p.yaxis[0].axis_label = ROW_LABELS[r]

    # inward tick marks on the top and right edges of the box
    dy = span * TICK_LEN / FRAME_H
    dx = 4000 * TICK_LEN / FRAME_W
    p.segment(x0=x_inner, y0=[hi] * len(x_inner), x1=x_inner, y1=[hi - dy] * len(x_inner),
              line_color=AX_COLOR, line_width=1)
    p.segment(x0=[4000] * len(y_inner), y0=y_inner, x1=[4000 - dx] * len(y_inner), y1=y_inner,
              line_color=AX_COLOR, line_width=1)

    for i, pts in enumerate(PANELS[r][c]):
        xs = [q[0] for q in pts]
        ys = [q[1] for q in pts]
        p.line(xs, ys, line_color=COLORS[i], line_width=1.3, line_alpha=0.85)
    return p


titles = row([text_strip(t, TITLE_STRIP_H, TITLE_STRIP_H - 22, "33px", "black") for t in COL_TITLES])
grid_rows = [row([make_panel(r, c) for c in range(3)]) for r in range(3)]
names = row([text_strip(t, LABEL_STRIP_H, LABEL_STRIP_H - 17, "31px", AX_COLOR) for t in X_LABELS])

layout = column([titles] + grid_rows + [names])
open("out.html", "w").write(file_html(layout, INLINE))
